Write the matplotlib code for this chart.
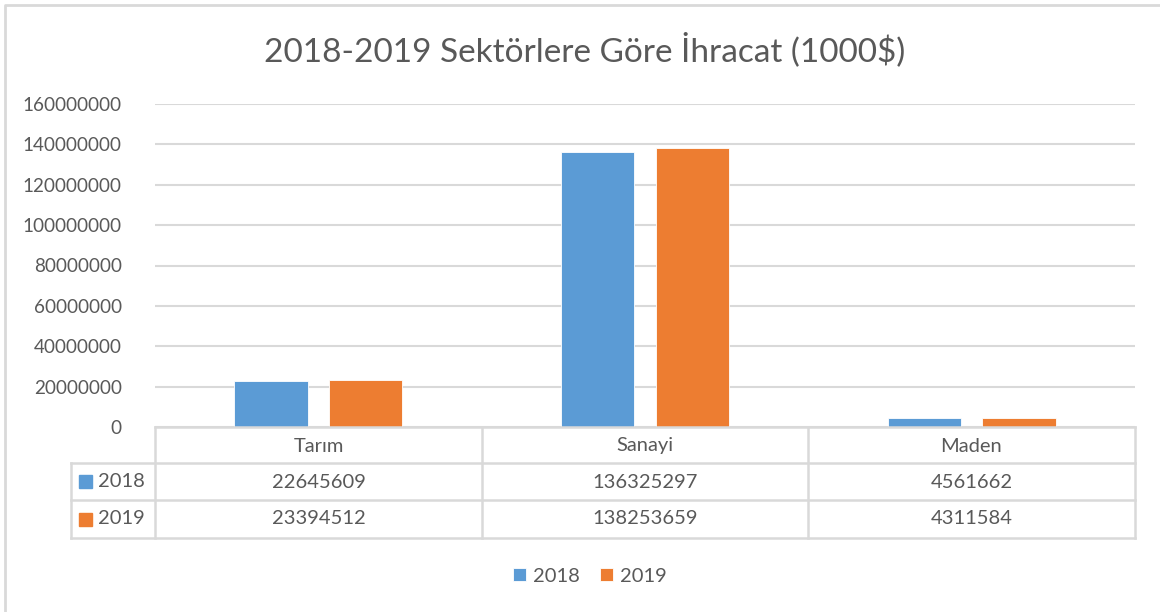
import numpy as np
import matplotlib
matplotlib.use("Agg")
import matplotlib.pyplot as plt
from matplotlib.patches import Rectangle

plt.rcParams['font.family'] = ['Lato', 'DejaVu Sans']

sectors = ["Tarım", "Sanayi", "Maden"]
years = ["2018", "2019"]
exports_2018 = [22645609, 136325297, 4561662]
exports_2019 = [23394512, 138253659, 4311584]
yticks = [0, 20000000, 40000000, 60000000, 80000000, 100000000, 120000000, 140000000, 160000000]
title = "2018-2019 Sektörlere Göre İhracat (1000$)"

colors = ["#5B9BD5", "#ED7D31"]
grey = "#D9D9D9"
txt = "#595959"

W, H = 1160, 612
fig = plt.figure(figsize=(W / 100, H / 100), dpi=100)

# pixel helper
def box(x0, y0, x1, y1):
    return [x0 / W, 1 - y1 / H, (x1 - x0) / W, (y1 - y0) / H]

ax = fig.add_axes(box(155, 104, 1135, 427))
x = np.arange(len(sectors))
w = 0.225
ax.bar(x - 0.145, exports_2018, w, color=colors[0], edgecolor="white", linewidth=0.6, label=years[0], zorder=3)
ax.bar(x + 0.145, exports_2019, w, color=colors[1], edgecolor="white", linewidth=0.6, label=years[1], zorder=3)
ax.set_xlim(-0.5, 2.5)
ax.set_ylim(0, 160000000)
ax.set_yticks(yticks)
ax.set_yticklabels([str(v) for v in yticks], fontsize=13.6, color=txt)
ax.yaxis.grid(True, color=grey, linewidth=1.5, zorder=0)
ax.set_xticks([])
for s in ax.spines.values():
    s.set_visible(False)
ax.tick_params(axis="y", length=0, pad=24)

# data table + border drawn on an overlay
ov = fig.add_axes([0, 0, 1, 1], zorder=-1)
ov.set_xlim(0, W)
ov.set_ylim(H, 0)
ov.axis("off")
ov.plot([4.5, 4.5, W + 5], [H + 5, 4.5, 4.5], color=grey, lw=2)

ov2 = fig.add_axes([0, 0, 1, 1])
ov2.set_xlim(0, W)
ov2.set_ylim(H, 0)
ov2.axis("off")
col_edges = [155, 482, 808, 1135]
row_edges = [427, 463, 500, 538]
lc = dict(color=grey, lw=1.8)
ov2.plot([155, 1135], [427, 427], **lc)
for r in row_edges[1:]:
    ov2.plot([71, 1135], [r, r], **lc)
for c in col_edges:
    ov2.plot([c, c], [427, 538], **lc)
ov2.plot([71, 71], [463, 538], **lc)

for i, name in enumerate(sectors):
    cx = (col_edges[i] + col_edges[i + 1]) / 2
    ov2.text(cx, 446, name, ha="center", va="center", fontsize=14.5, color=txt)
    ov2.text(cx, 482, str(exports_2018[i]), ha="center", va="center", fontsize=14.5, color=txt)
    ov2.text(cx, 519, str(exports_2019[i]), ha="center", va="center", fontsize=14.5, color=txt)
for j, (yr, c) in enumerate(zip(years, colors)):
    cy = (row_edges[j + 1] + row_edges[j + 2]) / 2
    ov2.add_patch(Rectangle((79, cy - 6.5), 13, 13, color=c))
    ov2.text(98, cy, yr, ha="left", va="center", fontsize=14.5, color=txt)

fig.text(585 / W, 1 - 50 / H, title, ha="center", va="center", fontsize=24, color=txt)

handles, labels = ax.get_legend_handles_labels()
fig.legend(handles, labels, loc="center", bbox_to_anchor=(590 / W, 1 - 576 / H), ncol=2,
           frameon=False, fontsize=14.5, handlelength=0.65, handleheight=0.65,
           handletextpad=0.35, columnspacing=1.0, labelcolor=txt)

fig.savefig("out.png", dpi=100)
